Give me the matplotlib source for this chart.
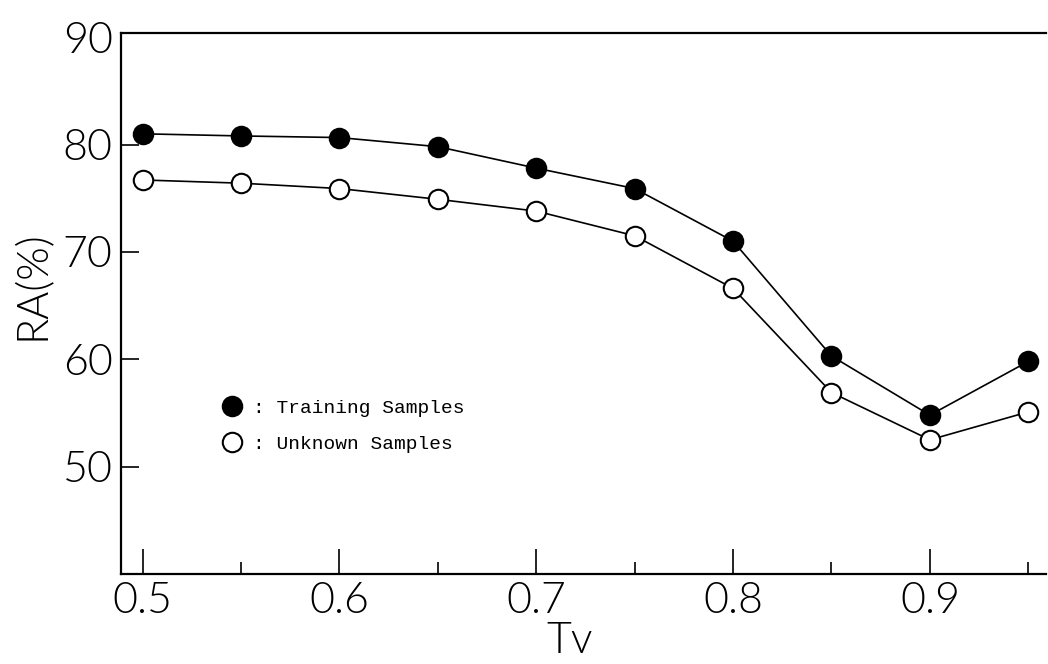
import matplotlib
matplotlib.use('Agg')
import matplotlib.pyplot as plt
from matplotlib.lines import Line2D
from matplotlib.ticker import MultipleLocator

# data
tv = [0.50, 0.55, 0.60, 0.65, 0.70, 0.75, 0.80, 0.85, 0.90, 0.95]
training = [81.0, 80.8, 80.65, 79.8, 77.8, 75.9, 71.0, 60.3, 54.8, 59.8]
unknown = [76.7, 76.4, 75.9, 74.9, 73.8, 71.5, 66.6, 56.9, 52.5, 55.1]
xticks = [0.5, 0.6, 0.7, 0.8, 0.9]
xticklabels = ['0.5', '0.6', '0.7', '0.8', '0.9']
yticks = [50, 60, 70, 80, 90]

tick_font = dict(family=['Lato', 'DejaVu Sans'], weight=300, size=31)

fig = plt.figure(figsize=(10.48, 6.64), dpi=100)
ax = fig.add_axes([0.1155, 0.1355, 0.8826, 0.815])

ax.plot(tv, training, color='black', lw=1.2, marker='o', ms=14,
        mfc='black', mec='black', mew=1.5, zorder=3)
ax.plot(tv, unknown, color='black', lw=1.2, marker='o', ms=14,
        mfc='white', mec='black', mew=1.5, zorder=3)

ax.set_xlim(0.489, 0.959)
ax.set_ylim(40, 90.4)

ax.set_xticks(xticks)
ax.set_xticklabels(xticklabels, fontdict=tick_font)
ax.xaxis.set_minor_locator(MultipleLocator(0.05))
ax.set_yticks(yticks)
ax.set_yticklabels([str(v) for v in yticks], fontdict=tick_font)

ax.tick_params(axis='x', which='major', direction='in', length=18, width=1.2, pad=6)
ax.tick_params(axis='x', which='minor', direction='in', length=9, width=1.2)
ax.tick_params(axis='y', which='major', direction='in', length=13, width=1.2, pad=6)
# no tick mark at 90, only its label
ax.yaxis.get_major_ticks()[-1].tick1line.set_visible(False)

ax.spines['right'].set_visible(False)
for s in ['left', 'top', 'bottom']:
    ax.spines[s].set_linewidth(1.6)

ax.set_xlabel('Tv', fontdict=tick_font)
ax.xaxis.set_label_coords(0.485, -0.088)
ax.set_ylabel('RA(%)', fontdict=tick_font)
ax.yaxis.set_label_coords(-0.075, 0.534)

# legend
handles = [
    Line2D([], [], ls='none', marker='o', ms=14, mfc='black', mec='black', mew=1.5),
    Line2D([], [], ls='none', marker='o', ms=14, mfc='white', mec='black', mew=1.5),
]
ax.legend(handles, [': Training Samples', ': Unknown Samples'],
          loc='upper left', bbox_to_anchor=(0.09, 0.355), frameon=False,
          handlelength=1.0, handletextpad=0.6, labelspacing=0.95,
          prop=dict(family='Liberation Mono', size=14))

fig.savefig('out.png', dpi=100)
